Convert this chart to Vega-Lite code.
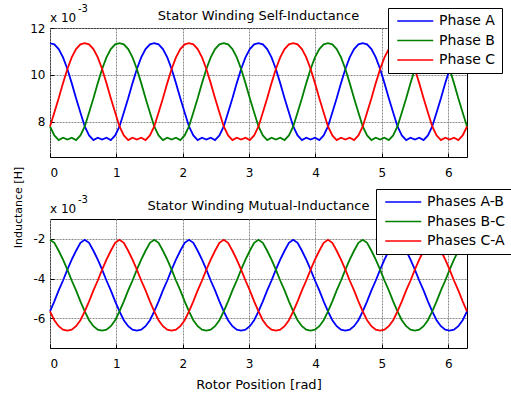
{
"$schema": "https://vega.github.io/schema/vega-lite/v6.json",
"padding": {"left": 11, "top": 3, "right": 0, "bottom": 2},
"bounds": "flush",
"spacing": 62,
"config": {
  "font": "DejaVu Sans",
  "view": {"stroke": "black", "strokeWidth": 1},
  "axis": {"labelFont": "DejaVu Sans", "labelFontSize": 12, "labelColor": "black", "gridColor": "#8a8a8a", "gridDash": [2, 1], "gridOpacity": 1, "domain": false, "tickColor": "black", "tickSize": -4, "titleFont": "DejaVu Sans", "titleFontWeight": "normal", "titleColor": "black"},
  "axisX": {"labelPadding": 14, "format": "d"},
  "axisY": {"labelPadding": 9},
  "title": {"fontSize": 13, "fontWeight": "normal", "color": "black", "font": "DejaVu Sans"},
  "legend": {"orient": "none", "symbolType": "M-0.625,0H5.375", "symbolSize": 144, "symbolStrokeWidth": 1.5, "labelFontSize": 14, "labelFont": "DejaVu Sans", "labelColor": "black", "fillColor": "white", "strokeColor": "black", "padding": 6, "rowPadding": 5.5, "labelOffset": 31}
},
"datasets": {
"self": [
{"x":0,"s":"Phase A","L":11.35},{"x":0.0654,"s":"Phase A","L":11.3},{"x":0.1309,"s":"Phase A","L":11.1},{"x":0.1963,"s":"Phase A","L":10.75},{"x":0.2618,"s":"Phase A","L":10.25},{"x":0.3272,"s":"Phase A","L":9.65},{"x":0.3927,"s":"Phase A","L":9.0},{"x":0.4581,"s":"Phase A","L":8.4},{"x":0.5236,"s":"Phase A","L":7.8},{"x":0.589,"s":"Phase A","L":7.42},{"x":0.6545,"s":"Phase A","L":7.22},{"x":0.7199,"s":"Phase A","L":7.32},{"x":0.7854,"s":"Phase A","L":7.24},{"x":0.8508,"s":"Phase A","L":7.32},{"x":0.9163,"s":"Phase A","L":7.22},{"x":0.9817,"s":"Phase A","L":7.42},{"x":1.0472,"s":"Phase A","L":7.8},{"x":1.1126,"s":"Phase A","L":8.4},{"x":1.1781,"s":"Phase A","L":9.0},{"x":1.2435,"s":"Phase A","L":9.65},{"x":1.309,"s":"Phase A","L":10.25},{"x":1.3744,"s":"Phase A","L":10.75},{"x":1.4399,"s":"Phase A","L":11.1},{"x":1.5053,"s":"Phase A","L":11.3},
{"x":1.5708,"s":"Phase A","L":11.35},{"x":1.6362,"s":"Phase A","L":11.3},{"x":1.7017,"s":"Phase A","L":11.1},{"x":1.7671,"s":"Phase A","L":10.75},{"x":1.8326,"s":"Phase A","L":10.25},{"x":1.898,"s":"Phase A","L":9.65},{"x":1.9635,"s":"Phase A","L":9.0},{"x":2.0289,"s":"Phase A","L":8.4},{"x":2.0944,"s":"Phase A","L":7.8},{"x":2.1598,"s":"Phase A","L":7.42},{"x":2.2253,"s":"Phase A","L":7.22},{"x":2.2907,"s":"Phase A","L":7.32},{"x":2.3562,"s":"Phase A","L":7.24},{"x":2.4216,"s":"Phase A","L":7.32},{"x":2.4871,"s":"Phase A","L":7.22},{"x":2.5525,"s":"Phase A","L":7.42},{"x":2.618,"s":"Phase A","L":7.8},{"x":2.6834,"s":"Phase A","L":8.4},{"x":2.7489,"s":"Phase A","L":9.0},{"x":2.8143,"s":"Phase A","L":9.65},{"x":2.8798,"s":"Phase A","L":10.25},{"x":2.9452,"s":"Phase A","L":10.75},{"x":3.0107,"s":"Phase A","L":11.1},{"x":3.0761,"s":"Phase A","L":11.3},
{"x":3.1416,"s":"Phase A","L":11.35},{"x":3.207,"s":"Phase A","L":11.3},{"x":3.2725,"s":"Phase A","L":11.1},{"x":3.3379,"s":"Phase A","L":10.75},{"x":3.4034,"s":"Phase A","L":10.25},{"x":3.4688,"s":"Phase A","L":9.65},{"x":3.5343,"s":"Phase A","L":9.0},{"x":3.5997,"s":"Phase A","L":8.4},{"x":3.6652,"s":"Phase A","L":7.8},{"x":3.7306,"s":"Phase A","L":7.42},{"x":3.7961,"s":"Phase A","L":7.22},{"x":3.8615,"s":"Phase A","L":7.32},{"x":3.927,"s":"Phase A","L":7.24},{"x":3.9924,"s":"Phase A","L":7.32},{"x":4.0579,"s":"Phase A","L":7.22},{"x":4.1233,"s":"Phase A","L":7.42},{"x":4.1888,"s":"Phase A","L":7.8},{"x":4.2542,"s":"Phase A","L":8.4},{"x":4.3197,"s":"Phase A","L":9.0},{"x":4.3851,"s":"Phase A","L":9.65},{"x":4.4506,"s":"Phase A","L":10.25},{"x":4.516,"s":"Phase A","L":10.75},{"x":4.5815,"s":"Phase A","L":11.1},{"x":4.6469,"s":"Phase A","L":11.3},
{"x":4.7124,"s":"Phase A","L":11.35},{"x":4.7778,"s":"Phase A","L":11.3},{"x":4.8433,"s":"Phase A","L":11.1},{"x":4.9087,"s":"Phase A","L":10.75},{"x":4.9742,"s":"Phase A","L":10.25},{"x":5.0396,"s":"Phase A","L":9.65},{"x":5.1051,"s":"Phase A","L":9.0},{"x":5.1705,"s":"Phase A","L":8.4},{"x":5.236,"s":"Phase A","L":7.8},{"x":5.3014,"s":"Phase A","L":7.42},{"x":5.3669,"s":"Phase A","L":7.22},{"x":5.4323,"s":"Phase A","L":7.32},{"x":5.4978,"s":"Phase A","L":7.24},{"x":5.5632,"s":"Phase A","L":7.32},{"x":5.6287,"s":"Phase A","L":7.22},{"x":5.6941,"s":"Phase A","L":7.42},{"x":5.7596,"s":"Phase A","L":7.8},{"x":5.825,"s":"Phase A","L":8.4},{"x":5.8905,"s":"Phase A","L":9.0},{"x":5.9559,"s":"Phase A","L":9.65},{"x":6.0214,"s":"Phase A","L":10.25},{"x":6.0868,"s":"Phase A","L":10.75},{"x":6.1523,"s":"Phase A","L":11.1},{"x":6.2177,"s":"Phase A","L":11.3},{"x":6.2832,"s":"Phase A","L":11.35},
{"x":0,"s":"Phase B","L":7.8},{"x":0.0654,"s":"Phase B","L":7.42},{"x":0.1309,"s":"Phase B","L":7.22},{"x":0.1963,"s":"Phase B","L":7.32},{"x":0.2618,"s":"Phase B","L":7.24},{"x":0.3272,"s":"Phase B","L":7.32},{"x":0.3927,"s":"Phase B","L":7.22},{"x":0.4581,"s":"Phase B","L":7.42},{"x":0.5236,"s":"Phase B","L":7.8},{"x":0.589,"s":"Phase B","L":8.4},{"x":0.6545,"s":"Phase B","L":9.0},{"x":0.7199,"s":"Phase B","L":9.65},{"x":0.7854,"s":"Phase B","L":10.25},{"x":0.8508,"s":"Phase B","L":10.75},{"x":0.9163,"s":"Phase B","L":11.1},{"x":0.9817,"s":"Phase B","L":11.3},{"x":1.0472,"s":"Phase B","L":11.35},{"x":1.1126,"s":"Phase B","L":11.3},{"x":1.1781,"s":"Phase B","L":11.1},{"x":1.2435,"s":"Phase B","L":10.75},{"x":1.309,"s":"Phase B","L":10.25},{"x":1.3744,"s":"Phase B","L":9.65},{"x":1.4399,"s":"Phase B","L":9.0},{"x":1.5053,"s":"Phase B","L":8.4},
{"x":1.5708,"s":"Phase B","L":7.8},{"x":1.6362,"s":"Phase B","L":7.42},{"x":1.7017,"s":"Phase B","L":7.22},{"x":1.7671,"s":"Phase B","L":7.32},{"x":1.8326,"s":"Phase B","L":7.24},{"x":1.898,"s":"Phase B","L":7.32},{"x":1.9635,"s":"Phase B","L":7.22},{"x":2.0289,"s":"Phase B","L":7.42},{"x":2.0944,"s":"Phase B","L":7.8},{"x":2.1598,"s":"Phase B","L":8.4},{"x":2.2253,"s":"Phase B","L":9.0},{"x":2.2907,"s":"Phase B","L":9.65},{"x":2.3562,"s":"Phase B","L":10.25},{"x":2.4216,"s":"Phase B","L":10.75},{"x":2.4871,"s":"Phase B","L":11.1},{"x":2.5525,"s":"Phase B","L":11.3},{"x":2.618,"s":"Phase B","L":11.35},{"x":2.6834,"s":"Phase B","L":11.3},{"x":2.7489,"s":"Phase B","L":11.1},{"x":2.8143,"s":"Phase B","L":10.75},{"x":2.8798,"s":"Phase B","L":10.25},{"x":2.9452,"s":"Phase B","L":9.65},{"x":3.0107,"s":"Phase B","L":9.0},{"x":3.0761,"s":"Phase B","L":8.4},
{"x":3.1416,"s":"Phase B","L":7.8},{"x":3.207,"s":"Phase B","L":7.42},{"x":3.2725,"s":"Phase B","L":7.22},{"x":3.3379,"s":"Phase B","L":7.32},{"x":3.4034,"s":"Phase B","L":7.24},{"x":3.4688,"s":"Phase B","L":7.32},{"x":3.5343,"s":"Phase B","L":7.22},{"x":3.5997,"s":"Phase B","L":7.42},{"x":3.6652,"s":"Phase B","L":7.8},{"x":3.7306,"s":"Phase B","L":8.4},{"x":3.7961,"s":"Phase B","L":9.0},{"x":3.8615,"s":"Phase B","L":9.65},{"x":3.927,"s":"Phase B","L":10.25},{"x":3.9924,"s":"Phase B","L":10.75},{"x":4.0579,"s":"Phase B","L":11.1},{"x":4.1233,"s":"Phase B","L":11.3},{"x":4.1888,"s":"Phase B","L":11.35},{"x":4.2542,"s":"Phase B","L":11.3},{"x":4.3197,"s":"Phase B","L":11.1},{"x":4.3851,"s":"Phase B","L":10.75},{"x":4.4506,"s":"Phase B","L":10.25},{"x":4.516,"s":"Phase B","L":9.65},{"x":4.5815,"s":"Phase B","L":9.0},{"x":4.6469,"s":"Phase B","L":8.4},
{"x":4.7124,"s":"Phase B","L":7.8},{"x":4.7778,"s":"Phase B","L":7.42},{"x":4.8433,"s":"Phase B","L":7.22},{"x":4.9087,"s":"Phase B","L":7.32},{"x":4.9742,"s":"Phase B","L":7.24},{"x":5.0396,"s":"Phase B","L":7.32},{"x":5.1051,"s":"Phase B","L":7.22},{"x":5.1705,"s":"Phase B","L":7.42},{"x":5.236,"s":"Phase B","L":7.8},{"x":5.3014,"s":"Phase B","L":8.4},{"x":5.3669,"s":"Phase B","L":9.0},{"x":5.4323,"s":"Phase B","L":9.65},{"x":5.4978,"s":"Phase B","L":10.25},{"x":5.5632,"s":"Phase B","L":10.75},{"x":5.6287,"s":"Phase B","L":11.1},{"x":5.6941,"s":"Phase B","L":11.3},{"x":5.7596,"s":"Phase B","L":11.35},{"x":5.825,"s":"Phase B","L":11.3},{"x":5.8905,"s":"Phase B","L":11.1},{"x":5.9559,"s":"Phase B","L":10.75},{"x":6.0214,"s":"Phase B","L":10.25},{"x":6.0868,"s":"Phase B","L":9.65},{"x":6.1523,"s":"Phase B","L":9.0},{"x":6.2177,"s":"Phase B","L":8.4},{"x":6.2832,"s":"Phase B","L":7.8},
{"x":0,"s":"Phase C","L":7.8},{"x":0.0654,"s":"Phase C","L":8.4},{"x":0.1309,"s":"Phase C","L":9.0},{"x":0.1963,"s":"Phase C","L":9.65},{"x":0.2618,"s":"Phase C","L":10.25},{"x":0.3272,"s":"Phase C","L":10.75},{"x":0.3927,"s":"Phase C","L":11.1},{"x":0.4581,"s":"Phase C","L":11.3},{"x":0.5236,"s":"Phase C","L":11.35},{"x":0.589,"s":"Phase C","L":11.3},{"x":0.6545,"s":"Phase C","L":11.1},{"x":0.7199,"s":"Phase C","L":10.75},{"x":0.7854,"s":"Phase C","L":10.25},{"x":0.8508,"s":"Phase C","L":9.65},{"x":0.9163,"s":"Phase C","L":9.0},{"x":0.9817,"s":"Phase C","L":8.4},{"x":1.0472,"s":"Phase C","L":7.8},{"x":1.1126,"s":"Phase C","L":7.42},{"x":1.1781,"s":"Phase C","L":7.22},{"x":1.2435,"s":"Phase C","L":7.32},{"x":1.309,"s":"Phase C","L":7.24},{"x":1.3744,"s":"Phase C","L":7.32},{"x":1.4399,"s":"Phase C","L":7.22},{"x":1.5053,"s":"Phase C","L":7.42},
{"x":1.5708,"s":"Phase C","L":7.8},{"x":1.6362,"s":"Phase C","L":8.4},{"x":1.7017,"s":"Phase C","L":9.0},{"x":1.7671,"s":"Phase C","L":9.65},{"x":1.8326,"s":"Phase C","L":10.25},{"x":1.898,"s":"Phase C","L":10.75},{"x":1.9635,"s":"Phase C","L":11.1},{"x":2.0289,"s":"Phase C","L":11.3},{"x":2.0944,"s":"Phase C","L":11.35},{"x":2.1598,"s":"Phase C","L":11.3},{"x":2.2253,"s":"Phase C","L":11.1},{"x":2.2907,"s":"Phase C","L":10.75},{"x":2.3562,"s":"Phase C","L":10.25},{"x":2.4216,"s":"Phase C","L":9.65},{"x":2.4871,"s":"Phase C","L":9.0},{"x":2.5525,"s":"Phase C","L":8.4},{"x":2.618,"s":"Phase C","L":7.8},{"x":2.6834,"s":"Phase C","L":7.42},{"x":2.7489,"s":"Phase C","L":7.22},{"x":2.8143,"s":"Phase C","L":7.32},{"x":2.8798,"s":"Phase C","L":7.24},{"x":2.9452,"s":"Phase C","L":7.32},{"x":3.0107,"s":"Phase C","L":7.22},{"x":3.0761,"s":"Phase C","L":7.42},
{"x":3.1416,"s":"Phase C","L":7.8},{"x":3.207,"s":"Phase C","L":8.4},{"x":3.2725,"s":"Phase C","L":9.0},{"x":3.3379,"s":"Phase C","L":9.65},{"x":3.4034,"s":"Phase C","L":10.25},{"x":3.4688,"s":"Phase C","L":10.75},{"x":3.5343,"s":"Phase C","L":11.1},{"x":3.5997,"s":"Phase C","L":11.3},{"x":3.6652,"s":"Phase C","L":11.35},{"x":3.7306,"s":"Phase C","L":11.3},{"x":3.7961,"s":"Phase C","L":11.1},{"x":3.8615,"s":"Phase C","L":10.75},{"x":3.927,"s":"Phase C","L":10.25},{"x":3.9924,"s":"Phase C","L":9.65},{"x":4.0579,"s":"Phase C","L":9.0},{"x":4.1233,"s":"Phase C","L":8.4},{"x":4.1888,"s":"Phase C","L":7.8},{"x":4.2542,"s":"Phase C","L":7.42},{"x":4.3197,"s":"Phase C","L":7.22},{"x":4.3851,"s":"Phase C","L":7.32},{"x":4.4506,"s":"Phase C","L":7.24},{"x":4.516,"s":"Phase C","L":7.32},{"x":4.5815,"s":"Phase C","L":7.22},{"x":4.6469,"s":"Phase C","L":7.42},
{"x":4.7124,"s":"Phase C","L":7.8},{"x":4.7778,"s":"Phase C","L":8.4},{"x":4.8433,"s":"Phase C","L":9.0},{"x":4.9087,"s":"Phase C","L":9.65},{"x":4.9742,"s":"Phase C","L":10.25},{"x":5.0396,"s":"Phase C","L":10.75},{"x":5.1051,"s":"Phase C","L":11.1},{"x":5.1705,"s":"Phase C","L":11.3},{"x":5.236,"s":"Phase C","L":11.35},{"x":5.3014,"s":"Phase C","L":11.3},{"x":5.3669,"s":"Phase C","L":11.1},{"x":5.4323,"s":"Phase C","L":10.75},{"x":5.4978,"s":"Phase C","L":10.25},{"x":5.5632,"s":"Phase C","L":9.65},{"x":5.6287,"s":"Phase C","L":9.0},{"x":5.6941,"s":"Phase C","L":8.4},{"x":5.7596,"s":"Phase C","L":7.8},{"x":5.825,"s":"Phase C","L":7.42},{"x":5.8905,"s":"Phase C","L":7.22},{"x":5.9559,"s":"Phase C","L":7.32},{"x":6.0214,"s":"Phase C","L":7.24},{"x":6.0868,"s":"Phase C","L":7.32},{"x":6.1523,"s":"Phase C","L":7.22},{"x":6.2177,"s":"Phase C","L":7.42},{"x":6.2832,"s":"Phase C","L":7.8}
],
"mutual": [
{"x":0,"s":"Phases A-B","L":-5.65},{"x":0.0654,"s":"Phases A-B","L":-5.15},{"x":0.1309,"s":"Phases A-B","L":-4.6},{"x":0.1963,"s":"Phases A-B","L":-4.1},{"x":0.2618,"s":"Phases A-B","L":-3.55},{"x":0.3272,"s":"Phases A-B","L":-3.05},{"x":0.3927,"s":"Phases A-B","L":-2.6},{"x":0.4581,"s":"Phases A-B","L":-2.2},{"x":0.5236,"s":"Phases A-B","L":-2.05},{"x":0.589,"s":"Phases A-B","L":-2.2},{"x":0.6545,"s":"Phases A-B","L":-2.6},{"x":0.7199,"s":"Phases A-B","L":-3.05},{"x":0.7854,"s":"Phases A-B","L":-3.55},{"x":0.8508,"s":"Phases A-B","L":-4.1},{"x":0.9163,"s":"Phases A-B","L":-4.6},{"x":0.9817,"s":"Phases A-B","L":-5.15},{"x":1.0472,"s":"Phases A-B","L":-5.65},{"x":1.1126,"s":"Phases A-B","L":-6.1},{"x":1.1781,"s":"Phases A-B","L":-6.4},{"x":1.2435,"s":"Phases A-B","L":-6.58},{"x":1.309,"s":"Phases A-B","L":-6.62},{"x":1.3744,"s":"Phases A-B","L":-6.58},{"x":1.4399,"s":"Phases A-B","L":-6.4},{"x":1.5053,"s":"Phases A-B","L":-6.1},
{"x":1.5708,"s":"Phases A-B","L":-5.65},{"x":1.6362,"s":"Phases A-B","L":-5.15},{"x":1.7017,"s":"Phases A-B","L":-4.6},{"x":1.7671,"s":"Phases A-B","L":-4.1},{"x":1.8326,"s":"Phases A-B","L":-3.55},{"x":1.898,"s":"Phases A-B","L":-3.05},{"x":1.9635,"s":"Phases A-B","L":-2.6},{"x":2.0289,"s":"Phases A-B","L":-2.2},{"x":2.0944,"s":"Phases A-B","L":-2.05},{"x":2.1598,"s":"Phases A-B","L":-2.2},{"x":2.2253,"s":"Phases A-B","L":-2.6},{"x":2.2907,"s":"Phases A-B","L":-3.05},{"x":2.3562,"s":"Phases A-B","L":-3.55},{"x":2.4216,"s":"Phases A-B","L":-4.1},{"x":2.4871,"s":"Phases A-B","L":-4.6},{"x":2.5525,"s":"Phases A-B","L":-5.15},{"x":2.618,"s":"Phases A-B","L":-5.65},{"x":2.6834,"s":"Phases A-B","L":-6.1},{"x":2.7489,"s":"Phases A-B","L":-6.4},{"x":2.8143,"s":"Phases A-B","L":-6.58},{"x":2.8798,"s":"Phases A-B","L":-6.62},{"x":2.9452,"s":"Phases A-B","L":-6.58},{"x":3.0107,"s":"Phases A-B","L":-6.4},{"x":3.0761,"s":"Phases A-B","L":-6.1},
{"x":3.1416,"s":"Phases A-B","L":-5.65},{"x":3.207,"s":"Phases A-B","L":-5.15},{"x":3.2725,"s":"Phases A-B","L":-4.6},{"x":3.3379,"s":"Phases A-B","L":-4.1},{"x":3.4034,"s":"Phases A-B","L":-3.55},{"x":3.4688,"s":"Phases A-B","L":-3.05},{"x":3.5343,"s":"Phases A-B","L":-2.6},{"x":3.5997,"s":"Phases A-B","L":-2.2},{"x":3.6652,"s":"Phases A-B","L":-2.05},{"x":3.7306,"s":"Phases A-B","L":-2.2},{"x":3.7961,"s":"Phases A-B","L":-2.6},{"x":3.8615,"s":"Phases A-B","L":-3.05},{"x":3.927,"s":"Phases A-B","L":-3.55},{"x":3.9924,"s":"Phases A-B","L":-4.1},{"x":4.0579,"s":"Phases A-B","L":-4.6},{"x":4.1233,"s":"Phases A-B","L":-5.15},{"x":4.1888,"s":"Phases A-B","L":-5.65},{"x":4.2542,"s":"Phases A-B","L":-6.1},{"x":4.3197,"s":"Phases A-B","L":-6.4},{"x":4.3851,"s":"Phases A-B","L":-6.58},{"x":4.4506,"s":"Phases A-B","L":-6.62},{"x":4.516,"s":"Phases A-B","L":-6.58},{"x":4.5815,"s":"Phases A-B","L":-6.4},{"x":4.6469,"s":"Phases A-B","L":-6.1},
{"x":4.7124,"s":"Phases A-B","L":-5.65},{"x":4.7778,"s":"Phases A-B","L":-5.15},{"x":4.8433,"s":"Phases A-B","L":-4.6},{"x":4.9087,"s":"Phases A-B","L":-4.1},{"x":4.9742,"s":"Phases A-B","L":-3.55},{"x":5.0396,"s":"Phases A-B","L":-3.05},{"x":5.1051,"s":"Phases A-B","L":-2.6},{"x":5.1705,"s":"Phases A-B","L":-2.2},{"x":5.236,"s":"Phases A-B","L":-2.05},{"x":5.3014,"s":"Phases A-B","L":-2.2},{"x":5.3669,"s":"Phases A-B","L":-2.6},{"x":5.4323,"s":"Phases A-B","L":-3.05},{"x":5.4978,"s":"Phases A-B","L":-3.55},{"x":5.5632,"s":"Phases A-B","L":-4.1},{"x":5.6287,"s":"Phases A-B","L":-4.6},{"x":5.6941,"s":"Phases A-B","L":-5.15},{"x":5.7596,"s":"Phases A-B","L":-5.65},{"x":5.825,"s":"Phases A-B","L":-6.1},{"x":5.8905,"s":"Phases A-B","L":-6.4},{"x":5.9559,"s":"Phases A-B","L":-6.58},{"x":6.0214,"s":"Phases A-B","L":-6.62},{"x":6.0868,"s":"Phases A-B","L":-6.58},{"x":6.1523,"s":"Phases A-B","L":-6.4},{"x":6.2177,"s":"Phases A-B","L":-6.1},{"x":6.2832,"s":"Phases A-B","L":-5.65},
{"x":0,"s":"Phases B-C","L":-2.05},{"x":0.0654,"s":"Phases B-C","L":-2.2},{"x":0.1309,"s":"Phases B-C","L":-2.6},{"x":0.1963,"s":"Phases B-C","L":-3.05},{"x":0.2618,"s":"Phases B-C","L":-3.55},{"x":0.3272,"s":"Phases B-C","L":-4.1},{"x":0.3927,"s":"Phases B-C","L":-4.6},{"x":0.4581,"s":"Phases B-C","L":-5.15},{"x":0.5236,"s":"Phases B-C","L":-5.65},{"x":0.589,"s":"Phases B-C","L":-6.1},{"x":0.6545,"s":"Phases B-C","L":-6.4},{"x":0.7199,"s":"Phases B-C","L":-6.58},{"x":0.7854,"s":"Phases B-C","L":-6.62},{"x":0.8508,"s":"Phases B-C","L":-6.58},{"x":0.9163,"s":"Phases B-C","L":-6.4},{"x":0.9817,"s":"Phases B-C","L":-6.1},{"x":1.0472,"s":"Phases B-C","L":-5.65},{"x":1.1126,"s":"Phases B-C","L":-5.15},{"x":1.1781,"s":"Phases B-C","L":-4.6},{"x":1.2435,"s":"Phases B-C","L":-4.1},{"x":1.309,"s":"Phases B-C","L":-3.55},{"x":1.3744,"s":"Phases B-C","L":-3.05},{"x":1.4399,"s":"Phases B-C","L":-2.6},{"x":1.5053,"s":"Phases B-C","L":-2.2},
{"x":1.5708,"s":"Phases B-C","L":-2.05},{"x":1.6362,"s":"Phases B-C","L":-2.2},{"x":1.7017,"s":"Phases B-C","L":-2.6},{"x":1.7671,"s":"Phases B-C","L":-3.05},{"x":1.8326,"s":"Phases B-C","L":-3.55},{"x":1.898,"s":"Phases B-C","L":-4.1},{"x":1.9635,"s":"Phases B-C","L":-4.6},{"x":2.0289,"s":"Phases B-C","L":-5.15},{"x":2.0944,"s":"Phases B-C","L":-5.65},{"x":2.1598,"s":"Phases B-C","L":-6.1},{"x":2.2253,"s":"Phases B-C","L":-6.4},{"x":2.2907,"s":"Phases B-C","L":-6.58},{"x":2.3562,"s":"Phases B-C","L":-6.62},{"x":2.4216,"s":"Phases B-C","L":-6.58},{"x":2.4871,"s":"Phases B-C","L":-6.4},{"x":2.5525,"s":"Phases B-C","L":-6.1},{"x":2.618,"s":"Phases B-C","L":-5.65},{"x":2.6834,"s":"Phases B-C","L":-5.15},{"x":2.7489,"s":"Phases B-C","L":-4.6},{"x":2.8143,"s":"Phases B-C","L":-4.1},{"x":2.8798,"s":"Phases B-C","L":-3.55},{"x":2.9452,"s":"Phases B-C","L":-3.05},{"x":3.0107,"s":"Phases B-C","L":-2.6},{"x":3.0761,"s":"Phases B-C","L":-2.2},
{"x":3.1416,"s":"Phases B-C","L":-2.05},{"x":3.207,"s":"Phases B-C","L":-2.2},{"x":3.2725,"s":"Phases B-C","L":-2.6},{"x":3.3379,"s":"Phases B-C","L":-3.05},{"x":3.4034,"s":"Phases B-C","L":-3.55},{"x":3.4688,"s":"Phases B-C","L":-4.1},{"x":3.5343,"s":"Phases B-C","L":-4.6},{"x":3.5997,"s":"Phases B-C","L":-5.15},{"x":3.6652,"s":"Phases B-C","L":-5.65},{"x":3.7306,"s":"Phases B-C","L":-6.1},{"x":3.7961,"s":"Phases B-C","L":-6.4},{"x":3.8615,"s":"Phases B-C","L":-6.58},{"x":3.927,"s":"Phases B-C","L":-6.62},{"x":3.9924,"s":"Phases B-C","L":-6.58},{"x":4.0579,"s":"Phases B-C","L":-6.4},{"x":4.1233,"s":"Phases B-C","L":-6.1},{"x":4.1888,"s":"Phases B-C","L":-5.65},{"x":4.2542,"s":"Phases B-C","L":-5.15},{"x":4.3197,"s":"Phases B-C","L":-4.6},{"x":4.3851,"s":"Phases B-C","L":-4.1},{"x":4.4506,"s":"Phases B-C","L":-3.55},{"x":4.516,"s":"Phases B-C","L":-3.05},{"x":4.5815,"s":"Phases B-C","L":-2.6},{"x":4.6469,"s":"Phases B-C","L":-2.2},
{"x":4.7124,"s":"Phases B-C","L":-2.05},{"x":4.7778,"s":"Phases B-C","L":-2.2},{"x":4.8433,"s":"Phases B-C","L":-2.6},{"x":4.9087,"s":"Phases B-C","L":-3.05},{"x":4.9742,"s":"Phases B-C","L":-3.55},{"x":5.0396,"s":"Phases B-C","L":-4.1},{"x":5.1051,"s":"Phases B-C","L":-4.6},{"x":5.1705,"s":"Phases B-C","L":-5.15},{"x":5.236,"s":"Phases B-C","L":-5.65},{"x":5.3014,"s":"Phases B-C","L":-6.1},{"x":5.3669,"s":"Phases B-C","L":-6.4},{"x":5.4323,"s":"Phases B-C","L":-6.58},{"x":5.4978,"s":"Phases B-C","L":-6.62},{"x":5.5632,"s":"Phases B-C","L":-6.58},{"x":5.6287,"s":"Phases B-C","L":-6.4},{"x":5.6941,"s":"Phases B-C","L":-6.1},{"x":5.7596,"s":"Phases B-C","L":-5.65},{"x":5.825,"s":"Phases B-C","L":-5.15},{"x":5.8905,"s":"Phases B-C","L":-4.6},{"x":5.9559,"s":"Phases B-C","L":-4.1},{"x":6.0214,"s":"Phases B-C","L":-3.55},{"x":6.0868,"s":"Phases B-C","L":-3.05},{"x":6.1523,"s":"Phases B-C","L":-2.6},{"x":6.2177,"s":"Phases B-C","L":-2.2},{"x":6.2832,"s":"Phases B-C","L":-2.05},
{"x":0,"s":"Phases C-A","L":-5.65},{"x":0.0654,"s":"Phases C-A","L":-6.1},{"x":0.1309,"s":"Phases C-A","L":-6.4},{"x":0.1963,"s":"Phases C-A","L":-6.58},{"x":0.2618,"s":"Phases C-A","L":-6.62},{"x":0.3272,"s":"Phases C-A","L":-6.58},{"x":0.3927,"s":"Phases C-A","L":-6.4},{"x":0.4581,"s":"Phases C-A","L":-6.1},{"x":0.5236,"s":"Phases C-A","L":-5.65},{"x":0.589,"s":"Phases C-A","L":-5.15},{"x":0.6545,"s":"Phases C-A","L":-4.6},{"x":0.7199,"s":"Phases C-A","L":-4.1},{"x":0.7854,"s":"Phases C-A","L":-3.55},{"x":0.8508,"s":"Phases C-A","L":-3.05},{"x":0.9163,"s":"Phases C-A","L":-2.6},{"x":0.9817,"s":"Phases C-A","L":-2.2},{"x":1.0472,"s":"Phases C-A","L":-2.05},{"x":1.1126,"s":"Phases C-A","L":-2.2},{"x":1.1781,"s":"Phases C-A","L":-2.6},{"x":1.2435,"s":"Phases C-A","L":-3.05},{"x":1.309,"s":"Phases C-A","L":-3.55},{"x":1.3744,"s":"Phases C-A","L":-4.1},{"x":1.4399,"s":"Phases C-A","L":-4.6},{"x":1.5053,"s":"Phases C-A","L":-5.15},
{"x":1.5708,"s":"Phases C-A","L":-5.65},{"x":1.6362,"s":"Phases C-A","L":-6.1},{"x":1.7017,"s":"Phases C-A","L":-6.4},{"x":1.7671,"s":"Phases C-A","L":-6.58},{"x":1.8326,"s":"Phases C-A","L":-6.62},{"x":1.898,"s":"Phases C-A","L":-6.58},{"x":1.9635,"s":"Phases C-A","L":-6.4},{"x":2.0289,"s":"Phases C-A","L":-6.1},{"x":2.0944,"s":"Phases C-A","L":-5.65},{"x":2.1598,"s":"Phases C-A","L":-5.15},{"x":2.2253,"s":"Phases C-A","L":-4.6},{"x":2.2907,"s":"Phases C-A","L":-4.1},{"x":2.3562,"s":"Phases C-A","L":-3.55},{"x":2.4216,"s":"Phases C-A","L":-3.05},{"x":2.4871,"s":"Phases C-A","L":-2.6},{"x":2.5525,"s":"Phases C-A","L":-2.2},{"x":2.618,"s":"Phases C-A","L":-2.05},{"x":2.6834,"s":"Phases C-A","L":-2.2},{"x":2.7489,"s":"Phases C-A","L":-2.6},{"x":2.8143,"s":"Phases C-A","L":-3.05},{"x":2.8798,"s":"Phases C-A","L":-3.55},{"x":2.9452,"s":"Phases C-A","L":-4.1},{"x":3.0107,"s":"Phases C-A","L":-4.6},{"x":3.0761,"s":"Phases C-A","L":-5.15},
{"x":3.1416,"s":"Phases C-A","L":-5.65},{"x":3.207,"s":"Phases C-A","L":-6.1},{"x":3.2725,"s":"Phases C-A","L":-6.4},{"x":3.3379,"s":"Phases C-A","L":-6.58},{"x":3.4034,"s":"Phases C-A","L":-6.62},{"x":3.4688,"s":"Phases C-A","L":-6.58},{"x":3.5343,"s":"Phases C-A","L":-6.4},{"x":3.5997,"s":"Phases C-A","L":-6.1},{"x":3.6652,"s":"Phases C-A","L":-5.65},{"x":3.7306,"s":"Phases C-A","L":-5.15},{"x":3.7961,"s":"Phases C-A","L":-4.6},{"x":3.8615,"s":"Phases C-A","L":-4.1},{"x":3.927,"s":"Phases C-A","L":-3.55},{"x":3.9924,"s":"Phases C-A","L":-3.05},{"x":4.0579,"s":"Phases C-A","L":-2.6},{"x":4.1233,"s":"Phases C-A","L":-2.2},{"x":4.1888,"s":"Phases C-A","L":-2.05},{"x":4.2542,"s":"Phases C-A","L":-2.2},{"x":4.3197,"s":"Phases C-A","L":-2.6},{"x":4.3851,"s":"Phases C-A","L":-3.05},{"x":4.4506,"s":"Phases C-A","L":-3.55},{"x":4.516,"s":"Phases C-A","L":-4.1},{"x":4.5815,"s":"Phases C-A","L":-4.6},{"x":4.6469,"s":"Phases C-A","L":-5.15},
{"x":4.7124,"s":"Phases C-A","L":-5.65},{"x":4.7778,"s":"Phases C-A","L":-6.1},{"x":4.8433,"s":"Phases C-A","L":-6.4},{"x":4.9087,"s":"Phases C-A","L":-6.58},{"x":4.9742,"s":"Phases C-A","L":-6.62},{"x":5.0396,"s":"Phases C-A","L":-6.58},{"x":5.1051,"s":"Phases C-A","L":-6.4},{"x":5.1705,"s":"Phases C-A","L":-6.1},{"x":5.236,"s":"Phases C-A","L":-5.65},{"x":5.3014,"s":"Phases C-A","L":-5.15},{"x":5.3669,"s":"Phases C-A","L":-4.6},{"x":5.4323,"s":"Phases C-A","L":-4.1},{"x":5.4978,"s":"Phases C-A","L":-3.55},{"x":5.5632,"s":"Phases C-A","L":-3.05},{"x":5.6287,"s":"Phases C-A","L":-2.6},{"x":5.6941,"s":"Phases C-A","L":-2.2},{"x":5.7596,"s":"Phases C-A","L":-2.05},{"x":5.825,"s":"Phases C-A","L":-2.2},{"x":5.8905,"s":"Phases C-A","L":-2.6},{"x":5.9559,"s":"Phases C-A","L":-3.05},{"x":6.0214,"s":"Phases C-A","L":-3.55},{"x":6.0868,"s":"Phases C-A","L":-4.1},{"x":6.1523,"s":"Phases C-A","L":-4.6},{"x":6.2177,"s":"Phases C-A","L":-5.15},{"x":6.2832,"s":"Phases C-A","L":-5.65}
]
},
"vconcat": [
{
  "width": 417, "height": 129,
  "title": {"text": "Stator Winding Self-Inductance", "offset": -19},
  "layer": [
    {"data": {"name": "self"},
     "mark": {"type": "line", "strokeWidth": 1.8},
     "encoding": {
       "x": {"field": "x", "type": "quantitative", "scale": {"domain": [0, 6.2832], "nice": false}, "axis": {"values": [0,1,2,3,4,5,6], "title": null, "grid": true}},
       "y": {"field": "L", "type": "quantitative", "scale": {"domain": [6.5, 12], "nice": false, "zero": false}, "axis": {"values": [8,10,12], "title": "Inductance [H]", "titleFontSize": 11, "titleAlign": "center", "titleBaseline": "bottom", "titleX": -27, "titleY": 179, "grid": true}},
       "color": {"field": "s", "type": "nominal", "scale": {"domain": ["Phase A","Phase B","Phase C"], "range": ["#0000ff","#008000","#ff0000"]}, "legend": {"title": null, "orient": "none", "legendX": 338, "legendY": -20}}
     }},
    {"data": {"values": [{}]},
     "mark": {"type": "text", "align": "left", "baseline": "alphabetic", "dy": -6, "fontSize": 12},
     "encoding": {"x": {"datum": 0}, "y": {"datum": 12}, "text": {"value": "x 10"}}},
    {"data": {"values": [{}]},
     "mark": {"type": "text", "align": "left", "baseline": "alphabetic", "dx": 28, "dy": -16, "fontSize": 10},
     "encoding": {"x": {"datum": 0}, "y": {"datum": 12}, "text": {"value": "-3"}}}
  ]
},
{
  "width": 417, "height": 129,
  "title": {"text": "Stator Winding Mutual-Inductance", "offset": -24},
  "layer": [
    {"data": {"name": "mutual"},
     "mark": {"type": "line", "strokeWidth": 1.8},
     "encoding": {
       "x": {"field": "x", "type": "quantitative", "scale": {"domain": [0, 6.2832], "nice": false}, "axis": {"values": [0,1,2,3,4,5,6], "title": "Rotor Position [rad]", "titleFontSize": 13, "titlePadding": 9, "grid": true}},
       "y": {"field": "L", "type": "quantitative", "scale": {"domain": [-7.5, -1], "nice": false, "zero": false}, "axis": {"values": [-6,-4,-2], "title": null, "labelExpr": "'' + datum.value", "grid": true}},
       "color": {"field": "s", "type": "nominal", "scale": {"domain": ["Phases A-B","Phases B-C","Phases C-A"], "range": ["#0000ff","#008000","#ff0000"]}, "legend": {"title": null, "orient": "none", "legendX": 326, "legendY": -30}}
     }},
    {"data": {"values": [{}]},
     "mark": {"type": "text", "align": "left", "baseline": "alphabetic", "dy": -6, "fontSize": 12},
     "encoding": {"x": {"datum": 0}, "y": {"datum": -1}, "text": {"value": "x 10"}}},
    {"data": {"values": [{}]},
     "mark": {"type": "text", "align": "left", "baseline": "alphabetic", "dx": 28, "dy": -16, "fontSize": 10},
     "encoding": {"x": {"datum": 0}, "y": {"datum": -1}, "text": {"value": "-3"}}}
  ]
}
],
"resolve": {"scale": {"color": "independent"}}
}
